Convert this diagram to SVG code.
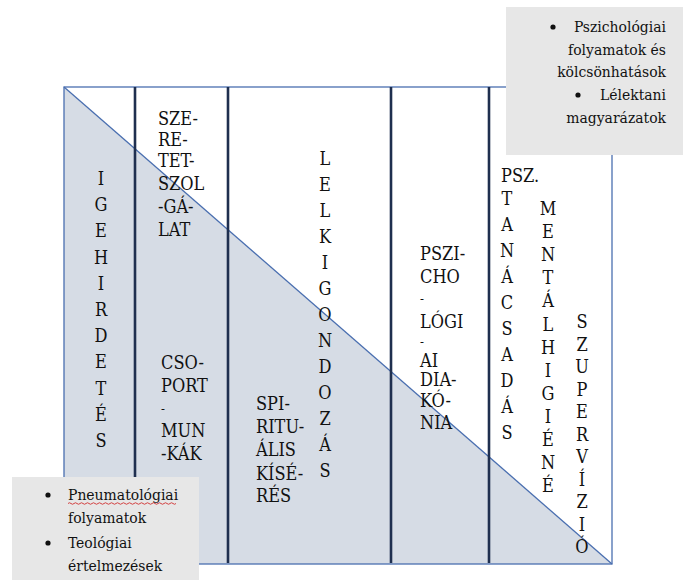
<svg xmlns="http://www.w3.org/2000/svg" width="700" height="580" viewBox="0 0 700 580">
<style>
  text { font-family: 'DejaVu Serif', serif; font-stretch: condensed; font-size: 18px; fill: #111111; }
  .box text { font-size: 15.5px; }
  .mid { text-anchor: middle; }
  .end { text-anchor: end; }
  .dash { font-size: 13px; }
  .border { fill: none; stroke: #4a6fb0; stroke-width: 1.3; }
  .col { stroke: #1f2f4f; stroke-width: 2.6; }
  .boxbg { fill: #e7e7e7; }
</style>
<rect width="700" height="580" fill="#ffffff"/>
<g id="grid">
  <polygon points="64,87 612,564 64,564" fill="#d6dce5"/>
  <line x1="64" y1="87" x2="612" y2="564" stroke="#4a6fb0" stroke-width="1.3"/>
  <rect class="border" x="64" y="87" width="548" height="477"/>
  <line class="col" x1="135" y1="87" x2="135" y2="563"/>
  <line class="col" x1="228" y1="87" x2="228" y2="563"/>
  <line class="col" x1="391" y1="87" x2="391" y2="563"/>
  <line class="col" x1="489" y1="87" x2="489" y2="563"/>
</g>
<g id="igehirdetes">
  <text class="mid" x="101" y="185"><tspan x="101">I</tspan><tspan x="101" dy="26.2">G</tspan><tspan x="101" dy="26.2">E</tspan><tspan x="101" dy="26.2">H</tspan><tspan x="101" dy="26.2">I</tspan><tspan x="101" dy="26.2">R</tspan><tspan x="101" dy="26.2">D</tspan><tspan x="101" dy="26.2">E</tspan><tspan x="101" dy="26.2">T</tspan><tspan x="101" dy="26.2">É</tspan><tspan x="101" dy="26.2">S</tspan></text>
</g>
<g id="szeretetszolgalat">
  <text x="158" y="125">SZE-</text>
  <text x="158" y="146">RE-</text>
  <text x="158" y="167">TET-</text>
  <text x="158" y="190">SZOL</text>
  <text x="158" y="213">-GÁ-</text>
  <text x="158" y="236">LAT</text>
</g>
<g id="csoportmunkak">
  <text x="161" y="369">CSO-</text>
  <text x="161" y="392">PORT</text>
  <text class="dash" x="161" y="413">-</text>
  <text x="161" y="437">MUN</text>
  <text x="161" y="460">-KÁK</text>
</g>
<g id="spiritualis">
  <text x="256" y="410">SPI-</text>
  <text x="256" y="433">RITU-</text>
  <text x="256" y="456">ÁLIS</text>
  <text x="256" y="480">KÍSÉ-</text>
  <text x="256" y="502">RÉS</text>
</g>
<g id="lelkigondozas">
  <text class="mid" x="325" y="165"><tspan x="325">L</tspan><tspan x="325" dy="26">E</tspan><tspan x="325" dy="26">L</tspan><tspan x="325" dy="26">K</tspan><tspan x="325" dy="26">I</tspan><tspan x="325" dy="26">G</tspan><tspan x="325" dy="26">O</tspan><tspan x="325" dy="26">N</tspan><tspan x="325" dy="26">D</tspan><tspan x="325" dy="26">O</tspan><tspan x="325" dy="26">Z</tspan><tspan x="325" dy="26">Á</tspan><tspan x="325" dy="26">S</tspan></text>
</g>
<g id="pszichologiai">
  <text x="420" y="260">PSZI-</text>
  <text x="420" y="283">CHO</text>
  <text class="dash" x="420" y="303">-</text>
  <text x="420" y="328">LÓGI</text>
  <text class="dash" x="420" y="346">-</text>
  <text x="420" y="367">AI</text>
  <text x="420" y="386">DIA-</text>
  <text x="420" y="407">KÓ-</text>
  <text x="420" y="429">NIA</text>
</g>
<g id="tanacsadas">
  <text x="501" y="182">PSZ.</text>
  <text class="mid" x="507" y="205"><tspan x="507">T</tspan><tspan x="507" dy="26">A</tspan><tspan x="507" dy="26">N</tspan><tspan x="507" dy="26">Á</tspan><tspan x="507" dy="26">C</tspan><tspan x="507" dy="26">S</tspan><tspan x="507" dy="26">A</tspan><tspan x="507" dy="26">D</tspan><tspan x="507" dy="26">Á</tspan><tspan x="507" dy="26">S</tspan></text>
</g>
<g id="mentalhigiene">
  <text class="mid" x="548" y="215"><tspan x="548">M</tspan><tspan x="548" dy="23.1">E</tspan><tspan x="548" dy="23.1">N</tspan><tspan x="548" dy="23.1">T</tspan><tspan x="548" dy="23.1">Á</tspan><tspan x="548" dy="23.1">L</tspan><tspan x="548" dy="23.1">H</tspan><tspan x="548" dy="23.1">I</tspan><tspan x="548" dy="23.1">G</tspan><tspan x="548" dy="23.1">I</tspan><tspan x="548" dy="23.1">É</tspan><tspan x="548" dy="23.1">N</tspan><tspan x="548" dy="23.1">É</tspan></text>
</g>
<g id="szupervizio">
  <text class="mid" x="582" y="328"><tspan x="582">S</tspan><tspan x="582" dy="22.5">Z</tspan><tspan x="582" dy="22.5">U</tspan><tspan x="582" dy="22.5">P</tspan><tspan x="582" dy="22.5">E</tspan><tspan x="582" dy="22.5">R</tspan><tspan x="582" dy="22.5">V</tspan><tspan x="582" dy="22.5">Í</tspan><tspan x="582" dy="22.5">Z</tspan><tspan x="582" dy="22.5">I</tspan><tspan x="582" dy="22.5">Ó</tspan></text>
</g>
<g id="psychology-box" class="box">
  <rect class="boxbg" x="506" y="7" width="177" height="148"/>
  <circle cx="553" cy="27" r="2.6" fill="#111111"/>
  <text class="end" x="666" y="32">Pszichológiai</text>
  <text class="end" x="666" y="55">folyamatok és</text>
  <text class="end" x="666" y="77">kölcsönhatások</text>
  <circle cx="578" cy="95" r="2.6" fill="#111111"/>
  <text class="end" x="666" y="100">Lélektani</text>
  <text class="end" x="666" y="123">magyarázatok</text>
</g>
<g id="theology-box" class="box">
  <rect class="boxbg" x="12" y="477" width="187" height="103"/>
  <circle cx="48" cy="495" r="2.6" fill="#111111"/>
  <text x="68" y="500">Pneumatológiai</text>
  <path d="M68,503.5 q1.5,-1.5 3,0 t3,0 t3,0 t3,0 t3,0 t3,0 t3,0 t3,0 t3,0 t3,0 t3,0 t3,0 t3,0 t3,0 t3,0 t3,0 t3,0 t3,0 t3,0 t3,0 t3,0 t3,0 t3,0 t3,0 t3,0 t3,0 t3,0 t3,0 t3,0 t3,0 t3,0 t3,0 t3,0 t3,0 t3,0 t3,0" fill="none" stroke="#d03030" stroke-width="0.9"/>
  <text x="68" y="523">folyamatok</text>
  <circle cx="48" cy="543" r="2.6" fill="#111111"/>
  <text x="68" y="548">Teológiai</text>
  <text x="68" y="571">értelmezések</text>
</g>
</svg>
